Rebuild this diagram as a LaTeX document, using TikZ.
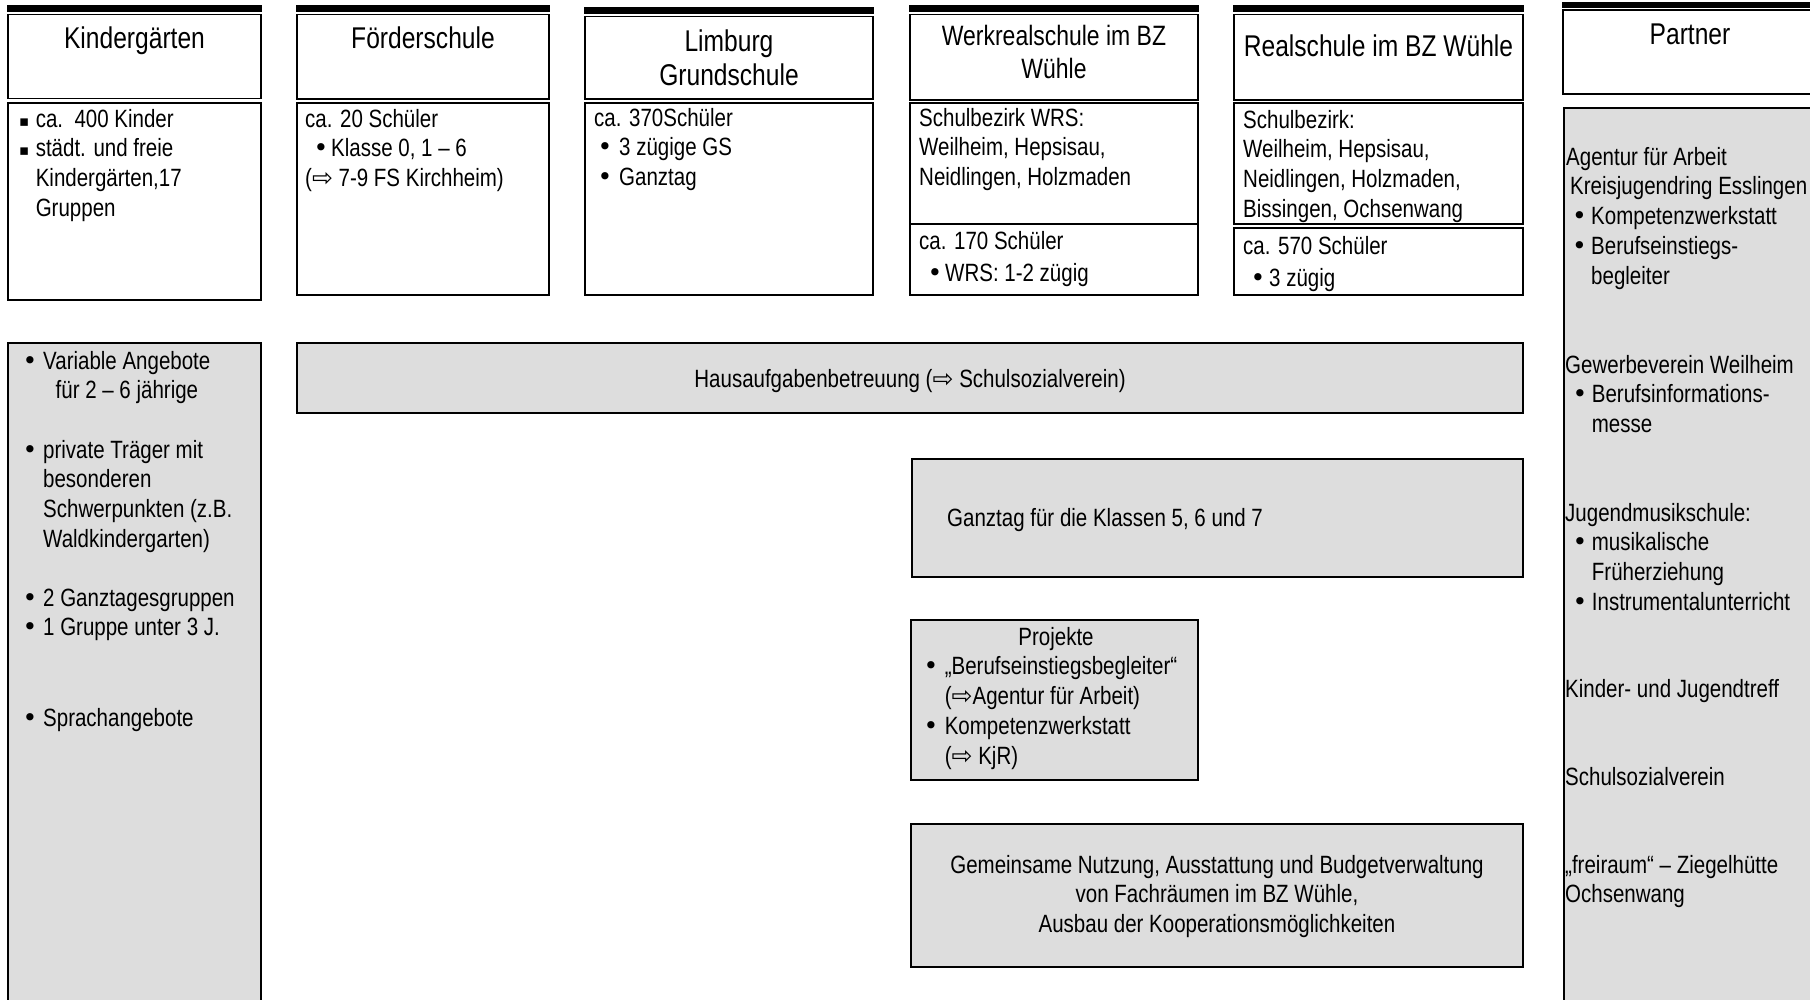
\documentclass[tikz,border=0pt]{standalone}
\usepackage{fontspec}
\setmainfont{Liberation Sans}[FakeStretch=0.82]
\newfontfamily\arrowfont{DejaVu Sans}
\definecolor{boxgray}{RGB}{221,221,221}
\tikzstyle{box}=[draw=black,line width=1.8pt]
\tikzstyle{gbox}=[box,fill=boxgray]
\tikzstyle{bar}=[fill=black]
\tikzstyle{head}=[font=\fontsize{30}{34}\selectfont,align=center,inner sep=0pt,anchor=north]
\tikzstyle{txt}=[font=\fontsize{25}{29.7}\selectfont,align=left,inner sep=0pt,anchor=north west]
\tikzstyle{ctxt}=[txt,align=center,anchor=north]
\newcommand{\bstr}{\rule{0pt}{24pt}}
\newcommand{\hstr}{\rule{0pt}{29pt}}
\newcommand{\bul}[1][15pt]{\makebox[#1][l]{\kern-3.5pt{\arrowfont •}}}
\newcommand{\sqb}{\makebox[16.6pt][l]{\raisebox{1pt}{\arrowfont\fontsize{15}{15}\selectfont ▪}}}
\newcommand{\rarr}{{\arrowfont ⇨}}

\begin{document}
\begin{tikzpicture}[x=1pt,y=-1pt]
        \useasboundingbox (0,0) rectangle (1810,999);
        \begin{scope}
        \clip (0,0) rectangle (1810,999);
        % top row
        \fill[bar] (7.1,5) rectangle (261.9,12);
        \draw[box] (8,14.5) rectangle (261,98.5);
        \draw[box] (8,103) rectangle (261,300);
        \fill[bar] (296.1,5) rectangle (549.9,12);
        \draw[box] (297,14.5) rectangle (549,99);
        \draw[box] (297,103) rectangle (549,295);
        \fill[bar] (584.1,7) rectangle (873.9,14);
        \draw[box] (585,16.5) rectangle (873,99);
        \draw[box] (585,103) rectangle (873,295);
        \fill[bar] (909.1,5) rectangle (1198.9,12);
        \draw[box] (910,14.5) rectangle (1198,100);
        \draw[box] (910,103) rectangle (1198,224);
        \draw[box] (910,224) rectangle (1198,295);
        \fill[bar] (1233.1,5) rectangle (1523.9,12);
        \draw[box] (1234,14.5) rectangle (1523,100);
        \draw[box] (1234,103) rectangle (1523,224);
        \draw[box] (1234,228) rectangle (1523,295);
        \fill[bar] (1562.1,2) rectangle (1830,8);
        \draw[box] (1563,10) rectangle (1830,94);
        \draw[gbox] (1564,108) rectangle (1830,1020);
        % lower part
        \draw[gbox] (8,343) rectangle (261,1020);
        \draw[gbox] (297,343) rectangle (1523,413);
        \draw[gbox] (912,459) rectangle (1523,577);
        \draw[gbox] (911,620) rectangle (1198,780);
        \draw[gbox] (911,824) rectangle (1523,967);
        \end{scope}

        \node[head] (kghead) at (134.5,19) {\hstr Kindergärten};
        \node[head] (fshead) at (423,19) {\hstr Förderschule};
        \node[head] (gshead) at (729,22) {\hstr Limburg\\Grundschule};
        \node[head,font=\fontsize{28}{33}\selectfont] (wrshead) at (1054,18) {\rule{0pt}{27pt}Werkrealschule im BZ\\Wühle};
        \node[head] (rshead) at (1378.5,27) {\hstr Realschule im BZ Wühle};
        \node[head] (phead) at (1690,15) {\hstr Partner};

        \node[txt] (kgbody) at (19,103) {\bstr\sqb ca.\ \ 400 Kinder\\ \sqb städt. und freie\\ \hspace*{16.6pt}Kindergärten,17\\ \hspace*{16.6pt}Gruppen};
        \node[txt] (fsbody) at (305,103) {\bstr ca. 20 Schüler\\ \hspace*{12pt}\bul[14pt]Klasse 0, 1 – 6\\ (\rarr\ 7-9 FS Kirchheim)};
        \node[txt] (gsbody) at (594,102) {\bstr ca. 370Schüler\\ \hspace*{7pt}\bul[18pt]3 zügige GS\\ \hspace*{7pt}\bul[18pt]Ganztag};
        \node[txt] (wrsort) at (919,102) {\bstr Schulbezirk WRS:\\Weilheim, Hepsisau,\\Neidlingen, Holzmaden};
        \node[txt] (wrszahl) at (919,225) {\bstr ca. 170 Schüler\\[2.5pt] \hspace*{12pt}\bul[14pt]WRS: 1-2 zügig};
        \node[txt] (rsort) at (1243,104) {\bstr Schulbezirk:\\Weilheim, Hepsisau,\\Neidlingen, Holzmaden,\\Bissingen, Ochsenwang};
        \node[txt] (rszahl) at (1243,230) {\bstr ca. 570 Schüler\\[2.5pt] \hspace*{11pt}\bul 3 zügig};

        \node[txt] (agentur) at (1566,141) {\bstr Agentur für Arbeit\\ \hspace*{4pt}Kreisjugendring Esslingen\\ \hspace*{9.5pt}\bul[15.5pt]Kompetenzwerkstatt\\ \hspace*{9.5pt}\bul[15.5pt]Berufseinstiegs-\\ \hspace*{25pt}begleiter};
        \node[txt] (gewerbe) at (1565,349) {\bstr Gewerbeverein Weilheim\\ \hspace*{11pt}\bul[15.7pt]Berufsinformations-\\ \hspace*{26.7pt}messe};
        \node[txt] (musik) at (1565,497) {\bstr Jugendmusikschule:\\ \hspace*{11pt}\bul[15.7pt]musikalische\\ \hspace*{26.7pt}Früherziehung\\ \hspace*{11pt}\bul[15.7pt]Instrumentalunterricht};
        \node[txt] (treff) at (1565,673) {\bstr Kinder- und Jugendtreff};
        \node[txt] (sozial) at (1565,761) {\bstr Schulsozialverein};
        \node[txt] (freiraum) at (1565,849) {\bstr „freiraum“ – Ziegelhütte\\Ochsenwang};

        \node[txt] (kgvar) at (26,345) {\bstr\bul[17pt]Variable Angebote\\ \hspace*{29.5pt}für 2 – 6 jährige};
        \node[txt] (kgpriv) at (26,434) {\bstr\bul[17pt]private Träger mit\\ \hspace*{17pt}besonderen\\ \hspace*{17pt}Schwerpunkten (z.B.\\ \hspace*{17pt}Waldkindergarten)};
        \node[txt] (kgganz) at (26,582) {\bstr\bul[17pt]2 Ganztagesgruppen\\ \bul[17pt]1 Gruppe unter 3 J.};
        \node[txt] (kgsprach) at (26,702) {\bstr\bul[17pt]Sprachangebote};

        \node[ctxt] (hausaufg) at (910,363) {\bstr Hausaufgabenbetreuung (\rarr\ Schulsozialverein)};
        \node[txt] (ganztag) at (947,502.5) {\bstr Ganztag für die Klassen 5, 6 und 7};
        \node[ctxt] (projhead) at (1056,621) {\bstr Projekte};
        \node[txt] (projlist) at (927,650.7) {\bstr\bul[17.6pt]„Berufseinstiegsbegleiter“\\ \hspace*{17.6pt}(\rarr Agentur für Arbeit)\\ \bul[17.6pt]Kompetenzwerkstatt\\ \hspace*{17.6pt}(\rarr\ KjR)};
        \node[ctxt] (nutzung) at (1217,849) {\bstr Gemeinsame Nutzung, Ausstattung und Budgetverwaltung\\von Fachräumen im BZ Wühle,\\Ausbau der Kooperationsmöglichkeiten};
      \end{tikzpicture}
\end{document}
